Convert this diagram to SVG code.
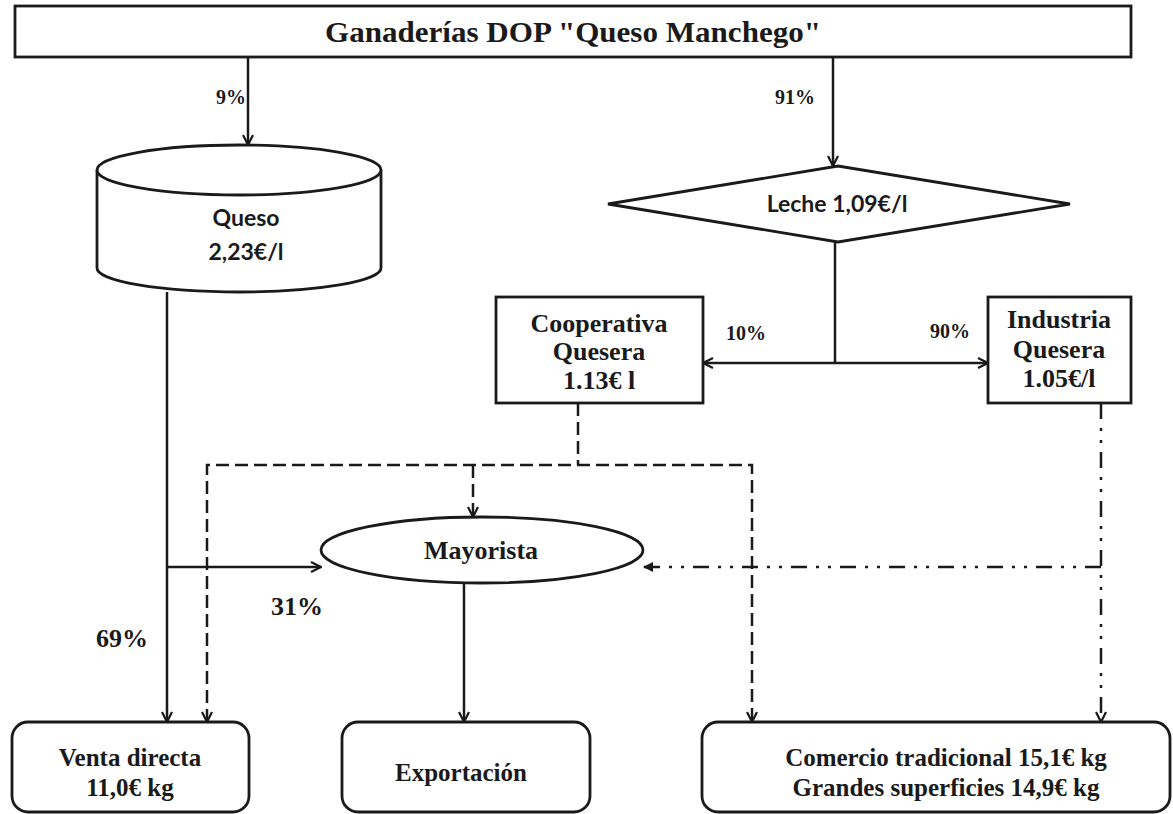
<svg xmlns="http://www.w3.org/2000/svg" width="1173" height="814" viewBox="0 0 1173 814">
<style>
.box{fill:#fff;stroke:#1a1a1a;stroke-width:2.8}
.ln{fill:none;stroke:#1a1a1a;stroke-width:2.5}
.dash{stroke-dasharray:13,6}
.dd{stroke-dasharray:16,9,3,9,3,9}
.ser{font-family:"Liberation Serif",serif;font-weight:bold;fill:#1a1a1a;text-anchor:middle}
.sans{font-family:Lato,"Open Sans",sans-serif;font-weight:bold;fill:#1a1a1a;text-anchor:middle}
</style>
<defs>
<marker id="ah" viewBox="0 0 12 12" refX="11" refY="6" markerWidth="12" markerHeight="12" markerUnits="userSpaceOnUse" orient="auto">
<path d="M1,1 L11,6 L1,11" fill="none" stroke="#1a1a1a" stroke-width="2.2"/>
</marker>
<marker id="ahs" viewBox="0 0 12 12" refX="11" refY="6" markerWidth="12" markerHeight="12" markerUnits="userSpaceOnUse" orient="auto-start-reverse">
<path d="M1,1 L11,6 L1,11" fill="none" stroke="#1a1a1a" stroke-width="2.2"/>
</marker>
<marker id="ahf" viewBox="0 0 12 12" refX="11" refY="6" markerWidth="12" markerHeight="12" markerUnits="userSpaceOnUse" orient="auto">
<path d="M1,1 L11,6 L1,11 Z" fill="#1a1a1a"/>
</marker>
</defs>

<g id="connectors">
<line class="ln" x1="248" y1="57" x2="248" y2="145" marker-end="url(#ah)"/>
<line class="ln" x1="833" y1="57" x2="833" y2="166" marker-end="url(#ah)"/>
<line class="ln" x1="835" y1="242" x2="835" y2="363"/>
<line class="ln" x1="703" y1="363" x2="988" y2="363" marker-start="url(#ahs)" marker-end="url(#ahs)"/>
<line class="ln" x1="167" y1="292" x2="167" y2="722" marker-end="url(#ah)"/>
<line class="ln" x1="167" y1="567" x2="321" y2="567" marker-end="url(#ah)"/>
<line class="ln" x1="464" y1="584" x2="464" y2="722" marker-end="url(#ah)"/>
<line class="ln dash" x1="578" y1="403" x2="578" y2="465"/>
<polyline class="ln dash" points="207,722 207,465 752,465 752,722"/>
<line class="ln" x1="207" y1="710" x2="207" y2="722" marker-end="url(#ah)" stroke-opacity="0"/>
<line class="ln" x1="752" y1="710" x2="752" y2="722" marker-end="url(#ah)" stroke-opacity="0"/>
<line class="ln dash" x1="473" y1="465" x2="473" y2="517" marker-end="url(#ah)"/>
<line class="ln dd" x1="1101" y1="403" x2="1101" y2="722" marker-end="url(#ah)"/>
<line class="ln dd" x1="1101" y1="567" x2="643" y2="567" marker-end="url(#ahf)"/>
<text class="ser" x="231" y="104" font-size="20">9%</text>
<text class="ser" x="795" y="104" font-size="20">91%</text>
<text class="ser" x="746" y="340" font-size="20">10%</text>
<text class="ser" x="950" y="338" font-size="20">90%</text>
<text class="ser" x="297" y="615" font-size="26">31%</text>
<text class="ser" x="122" y="647" font-size="26">69%</text>
</g>

<g id="n-ganaderias">
<rect class="box" x="15" y="6" width="1116" height="51"/>
<text class="ser" x="573" y="42" font-size="29" textLength="496" lengthAdjust="spacingAndGlyphs">Ganaderías DOP "Queso Manchego"</text>
</g>

<g id="n-queso">
<path class="box" d="M97,170 L97,268 A142,24 0 0 0 381,268 L381,170"/>
<ellipse class="box" cx="239" cy="170" rx="142" ry="25"/>
<text class="sans" x="246" y="226" font-size="23">Queso</text>
<text class="sans" x="246" y="260" font-size="23">2,23€/l</text>
</g>

<g id="n-leche">
<polygon class="box" points="608,204 838,166 1070,204 838,242"/>
<text class="sans" x="837" y="212" font-size="23">Leche 1,09€/l</text>
</g>

<g id="n-cooperativa">
<rect class="box" x="496" y="297" width="207" height="106"/>
<text class="ser" x="599" y="332" font-size="26">Cooperativa</text>
<text class="ser" x="599" y="360" font-size="26">Quesera</text>
<text class="ser" x="599" y="389" font-size="26">1.13€ l</text>
</g>

<g id="n-industria">
<rect class="box" x="988" y="297" width="143" height="106"/>
<text class="ser" x="1059" y="328" font-size="26">Industria</text>
<text class="ser" x="1059" y="358" font-size="26">Quesera</text>
<text class="ser" x="1059" y="387" font-size="26">1.05€/l</text>
</g>

<g id="n-mayorista">
<ellipse class="box" cx="482" cy="550" rx="161" ry="33"/>
<text class="ser" x="481" y="559" font-size="26">Mayorista</text>
</g>

<g id="n-venta">
<rect class="box" x="12" y="722" width="237" height="90" rx="16"/>
<text class="ser" x="130" y="766" font-size="25">Venta directa</text>
<text class="ser" x="130" y="796" font-size="25">11,0€ kg</text>
</g>

<g id="n-exportacion">
<rect class="box" x="342" y="722" width="248" height="90" rx="16"/>
<text class="ser" x="461" y="781" font-size="25">Exportación</text>
</g>

<g id="n-comercio">
<rect class="box" x="702" y="722" width="468" height="90" rx="16"/>
<text class="ser" x="946" y="766" font-size="25">Comercio tradicional  15,1€ kg</text>
<text class="ser" x="946" y="796" font-size="25">Grandes superficies 14,9€ kg</text>
</g>
</svg>
